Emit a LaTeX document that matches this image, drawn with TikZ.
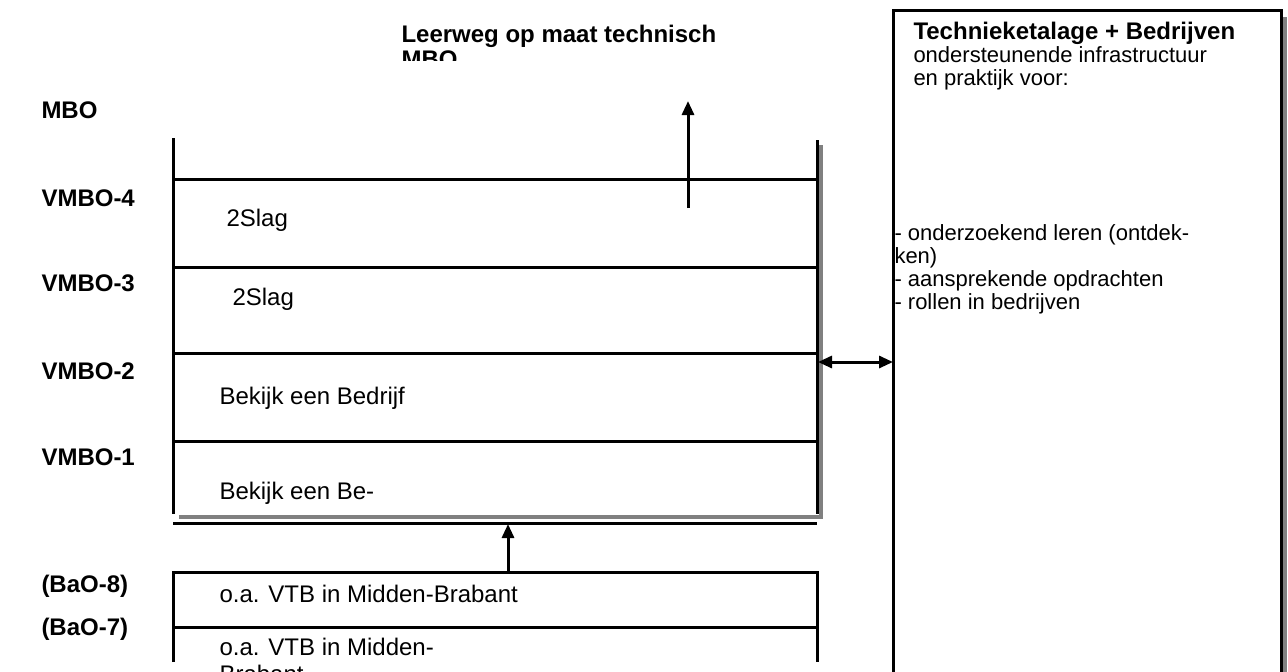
\documentclass[tikz,border=0pt]{standalone}
\usepackage{fontspec}
\setmainfont{Liberation Sans}
\usetikzlibrary{positioning,arrows.meta}
\begin{document}
\begin{tikzpicture}[x=0.5pt, y=-0.5pt, line width=1.5pt,
    every node/.style={font=\fontsize{12}{11.5}\selectfont, inner sep=0pt, anchor=base west},
    lvl/.style={font=\fontsize{12}{11.5}\selectfont\bfseries},
    uitleg/.style={font=\fontsize{11}{11.5}\selectfont},
    shade/.style={draw=black!50, line width=2pt},
    pijl/.style={-{Triangle[length=7pt, width=6pt]}, line width=1.5pt}]
  \useasboundingbox (0,0) rectangle (1288,671);
  \clip (0,0) rectangle (1288,671);
  % Levels
  \node[lvl] (mbo) at (40,118) {MBO};
  \node[lvl] (vmbo4) at (40,206) {VMBO-4};
  \node[lvl] (vmbo3) at (40,291) {VMBO-3};
  \node[lvl] (vmbo2) at (40,379) {VMBO-2};
  \node[lvl] (vmbo1) at (40,465) {VMBO-1};
  \node[lvl] (bao8) at (40,592) {(BaO-8)};
  \node[lvl] (bao7) at (40,635) {(BaO-7)};
  % Leerweg
  \node[lvl] (lw) at (400,42) {Leerweg op maat technisch};
  \begin{scope}
    \clip (380,0) rectangle (700,60);
    \node[lvl] (lwmbo) at (400,67) {MBO};
  \end{scope}
  % Main box
  \draw[shade] (821,145) -- (821,517) -- (179,517);
  \draw (173,138) -- (173,514);
  \draw (817,140) -- (817,514);
  \draw (173,179) -- (817,179);
  \draw (173,267) -- (817,267);
  \draw (173,353) -- (817,353);
  \draw (173,441) -- (817,441);
  \draw (173,523) -- (817,523);
  \node (r4) at (225,226) {2Slag};
  \node (r3) at (231,305) {2Slag};
  \node (r2) at (218,404) {Bekijk een Bedrijf};
  \node (r1) at (218,499) {Bekijk een Be-};
  % BaO box
  \draw (173,662) -- (173,572) -- (817,572) -- (817,662);
  \draw (173,627) -- (817,627);
  \node (b8) at (218,602) {o.a. VTB in Midden-Brabant};
  \node (b7) at (218,655) {o.a. VTB in Midden-};
  \node (b7b) at (218,682) {Brabant};
  % Technieketalage
  \draw[shade] (1285,17) -- (1285,700);
  \draw (893,10) rectangle (1281,700);
  \node[lvl] (tb) at (912,39) {Technieketalage + Bedrijven};
  \node[uitleg] (tb2) at (912,62) {ondersteunende infrastructuur};
  \node[uitleg] (tb3) at (912,85) {en praktijk voor:};
  \node[uitleg] (l1) at (893,240) {- onderzoekend leren (ontdek-};
  \node[uitleg] (l2) at (893,263) {ken)};
  \node[uitleg] (l3) at (893,286) {- aansprekende opdrachten};
  \node[uitleg] (l4) at (893,309) {- rollen in bedrijven};
  % Arrows
  \coordinate (lwfoot) at (688,208);
  \coordinate (lwtip) at (688,101);
  \draw[pijl] (lwfoot) -- (lwtip);
  \coordinate (baotop) at (508,572);
  \coordinate (vmbobot) at (508,524);
  \draw[pijl] (baotop) -- (vmbobot);
  \coordinate (boxr) at (818,362);
  \coordinate (tbl) at (893,362);
  \draw[pijl, {Triangle[length=7pt, width=6pt]}-{Triangle[length=7pt, width=6pt]}] (boxr) -- (tbl);
\end{tikzpicture}
\end{document}
